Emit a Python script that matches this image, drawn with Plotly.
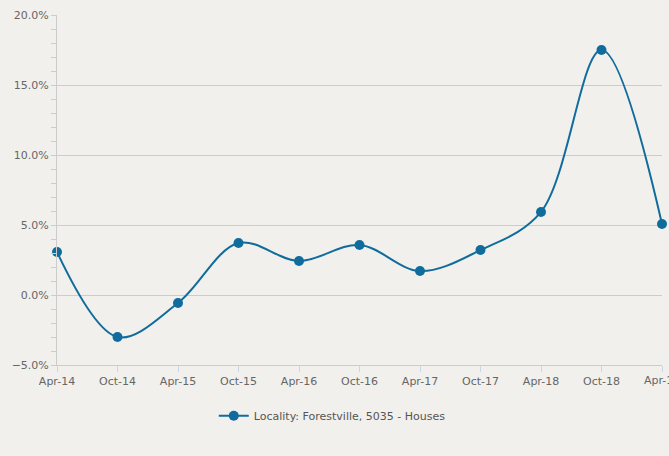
import plotly.graph_objects as go

periods = ["Apr-14", "Oct-14", "Apr-15", "Oct-15", "Apr-16", "Oct-16",
           "Apr-17", "Oct-17", "Apr-18", "Oct-18", "Apr-19"]
growth = [3.07, -3.0, -0.57, 3.71, 2.43, 3.57, 1.71, 3.21, 5.93, 17.5, 5.07]
series_name = "Locality: Forestville, 5035 - Houses"

x_idx = list(range(len(periods)))

fig = go.Figure()
fig.add_trace(go.Scatter(
    x=x_idx, y=growth, name=series_name, mode="lines+markers",
    line=dict(color="#106c9c", width=2, shape="spline", smoothing=1.0),
    marker=dict(size=10, color="#106c9c"),
    cliponaxis=False,
    showlegend=True,
))

# last tick label (plotly drops it because it overflows the figure edge)
fig.add_annotation(
    x=x_idx[-1], y=0, xref="x", yref="paper", text=periods[-1],
    showarrow=False, xanchor="center", yanchor="top", yshift=-7,
    font=dict(size=11, color="#666666"),
)

bg = "#f1f0ec"
fig.update_layout(
    width=669, height=456,
    paper_bgcolor=bg, plot_bgcolor=bg,
    margin=dict(l=57, r=7, t=15, b=91),
    font=dict(family="DejaVu Sans", size=11, color="#666666"),
    showlegend=True,
    legend=dict(orientation="h", x=0.455, xanchor="center", y=-0.145, yanchor="middle",
                font=dict(size=11, color="#555555"), bgcolor="rgba(0,0,0,0)"),
    xaxis=dict(
        tickmode="array", tickvals=x_idx, ticktext=periods[:-1] + [""],
        range=[0, len(periods) - 1],
        showgrid=False, zeroline=False,
        showline=True, linecolor="#cccccc", linewidth=1,
        ticks="outside", ticklen=6, tickcolor="#ccd6eb",
        tickfont=dict(size=11, color="#666666"),
    ),
    yaxis=dict(
        range=[-5, 20], dtick=5, tick0=0,
        tickformat=".1f", ticksuffix="%",
        showgrid=True, gridcolor="#cccccc", gridwidth=1,
        zeroline=False,
        showline=True, linecolor="#cccccc", linewidth=1,
        ticks="outside", ticklen=5, tickcolor="#cccccc",
        minor=dict(dtick=1, ticks="outside", ticklen=5, tickcolor="#cccccc", showgrid=False),
        tickfont=dict(size=11, color="#666666"),
    ),
)

fig.write_html(
    "out.html",
    config={"displayModeBar": False},
    post_script="document.body.style.margin='0';document.body.style.background='" + bg + "';",
)
